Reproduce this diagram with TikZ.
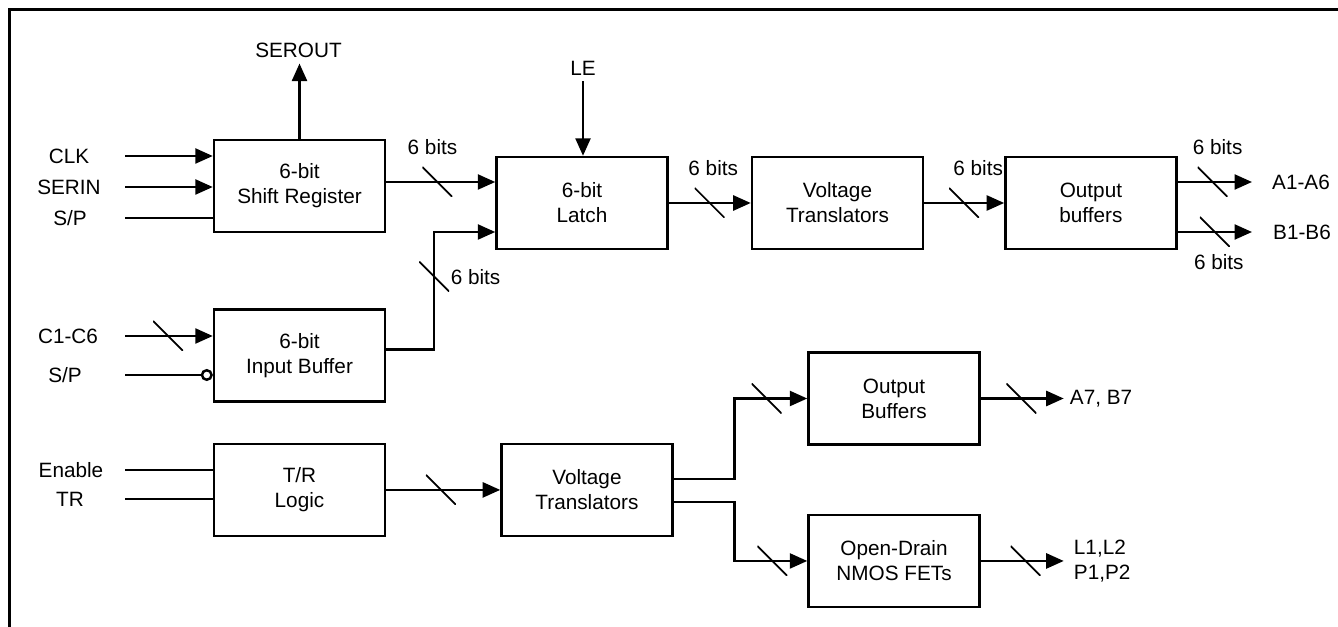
\documentclass[tikz,border=0pt]{standalone}
\usepackage{fontspec}
\setmainfont{Liberation Sans}
\usetikzlibrary{arrows.meta, positioning, calc}
\begin{document}
\begin{tikzpicture}[
    font=\fontsize{11.8}{14.2}\selectfont,
    block/.style={rectangle, draw=black, line width=1.4pt, minimum width=3.42cm, minimum height=1.84cm, align=center, inner sep=2pt},
    wire/.style={line width=1.4pt},
    arrow/.style={-{Triangle[length=3.5mm, width=3mm]}, line width=1.4pt},
    invert/.style={-{Circle[open, length=2.4mm, width=2.4mm]}, line width=1.4pt},
    slash/.style={rectangle, inner sep=0pt, minimum size=6mm, path picture={\draw[-, line width=1pt] (path picture bounding box.north west) -- (path picture bounding box.south east);}},
    bits/.style={inner sep=0pt},
    frame/.style={line width=2pt}
]
\useasboundingbox (0,0) rectangle (26.76,-12.54);
\draw[frame] (0.19,-12.7) -- (0.19,-0.19) -- (26.9,-0.19);
\coordinate (xin) at (2.5,0);

% Serial path
\node[block] (sr) at (5.99,-3.72) {6-bit\\Shift Register};
\node[block, below=1.5cm of sr] (ib) {6-bit\\Input Buffer};
\node[block, below=0.8cm of ib] (trl) {T/R\\Logic};
\node[block] (latch) at (11.64,-4.06) {6-bit\\Latch};
\node[block, right=1.64cm of latch] (vt1) {Voltage\\Translators};
\node[block, right=1.6cm of vt1] (ob1) {Output\\buffers};
\node[block, right=2.28cm of trl] (vt2) {Voltage\\Translators};
\node[block] (ob2) at (17.88,-7.97) {Output\\Buffers};
\node[block, below=1.36cm of ob2] (nmos) {Open-Drain\\NMOS FETs};

% Inputs
\node (clk) at (1.38,-3.12) {CLK};
\node (serin) at (1.38,-3.74) {SERIN};
\node (sp1) at (1.40,-4.36) {S/P};
\node (c16) at (1.36,-6.72) {C1-C6};
\node (sp2) at (1.30,-7.5) {S/P};
\node (en) at (1.42,-9.40) {Enable};
\node (tr) at (1.40,-9.98) {TR};
\node (serout) at (5.97,-1.0) {SEROUT};
\node (le) at (11.66,-1.36) {LE};

\draw[arrow] (clk -| xin) -- (clk -| sr.west);
\draw[arrow] (serin -| xin) -- (serin -| sr.west);
\draw[wire] (sp1 -| xin) -- (sp1 -| sr.west);
\draw[arrow] (c16 -| xin) -- node[slash, pos=.49] (s7) {} (c16 -| ib.west);
\draw[invert] (sp2 -| xin) -- (sp2 -| ib.west);
\draw[wire] (en -| xin) -- (en -| trl.west);
\draw[wire] (tr -| xin) -- (tr -| trl.west);
\draw[arrow] (sr.north) -- (sr.north |- serout.south);
\draw[arrow] (le.south) -- (latch.north -| le);

% Data path
\coordinate (lin1) at ($(latch.west)+(0,0.42)$);
\coordinate (lin2) at ($(latch.west)+(0,-0.58)$);
\draw[arrow] (sr.east |- lin1) -- node[slash, pos=.47] (s1) {} (lin1);
\node[bits, above=2.2mm of s1, xshift=-1mm] (b1) {6 bits};
\draw[arrow] ($(ib.east)+(0,0.12)$) -- ++(0.96,0) |- node[slash, pos=.31] (s2) {} (lin2);
\node[bits, right=0mm of s2] (b2) {6 bits};
\draw[arrow] (latch) -- node[slash] (s3) {} (vt1);
\node[bits, above=2.2mm of s3, xshift=0.7mm] (b3) {6 bits};
\draw[arrow] (vt1) -- node[slash] (s4) {} (ob1);
\node[bits, above=2.2mm of s4, xshift=2.8mm] (b4) {6 bits};

% Outputs
\node[anchor=west] (a16) at (25.32,-3.64) {A1-A6};
\node[anchor=west] (b16) at (25.34,-4.64) {B1-B6};
\draw[arrow] (ob1.east |- a16) -- node[slash, pos=.47] (s5) {} ([xshift=-2.8mm]a16.west);
\node[bits, above=2.2mm of s5, xshift=1mm] (b5) {6 bits};
\draw[arrow] (ob1.east |- b16) -- node[slash, pos=.5] (s6) {} ([xshift=-3mm]b16.west);
\node[bits, below=1.2mm of s6, xshift=0.8mm] (b6) {6 bits};

% T/R path
\draw[arrow] (trl) -- node[slash, pos=.48] (s8) {} (vt2);
\draw[arrow] ($(vt2.east)+(0,0.22)$) -- ++(1.22,0) |- node[slash, pos=.72] (s9) {} (ob2.west);
\draw[arrow] ($(vt2.east)+(0,-0.24)$) -- ++(1.22,0) |- node[slash, pos=.76] (s10) {} (nmos.west);
\node[right=1.66cm of ob2] (ab7) {A7, B7};
\node[right=1.74cm of nmos, align=left] (lp) {L1,L2\\P1,P2};
\draw[arrow] (ob2) -- node[slash, pos=.49] (s11) {} (ab7.west);
\draw[arrow] (nmos) -- node[slash, pos=.54] (s12) {} ([xshift=-0.8mm]lp.west);

\end{tikzpicture}
\end{document}
